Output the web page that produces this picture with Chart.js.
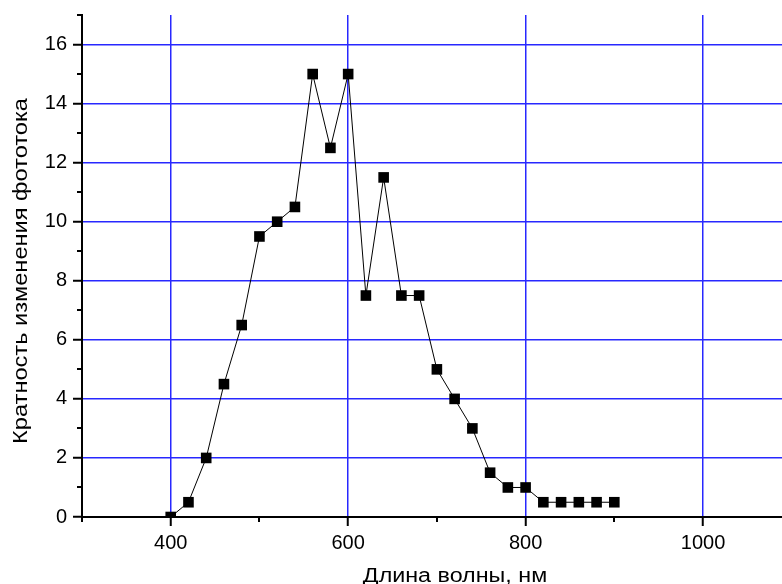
<!DOCTYPE html>
<html>
<head>
<meta charset="utf-8">
<script src="https://cdn.jsdelivr.net/npm/chart.js@4/dist/chart.umd.min.js"></script>
<style>
  html, body { margin: 0; padding: 0; background: #fff; }
  #wrap { width: 782px; height: 584px; }
</style>
</head>
<body>
<div id="wrap"><canvas id="chart"></canvas></div>
<script>
// wavelength, nm
const wavelengths = [400, 420, 440, 460, 480, 500, 520, 540, 560, 580, 600, 620, 640,
  660, 680, 700, 720, 740, 760, 780, 800, 820, 840, 860, 880, 900];
// photocurrent change ratio
const ratios = [0, 0.5, 2, 4.5, 6.5, 9.5, 10, 10.5, 15, 12.5, 15, 7.5, 11.5,
  7.5, 7.5, 5, 4, 3, 1.5, 1, 1, 0.5, 0.5, 0.5, 0.5, 0.5];

const xTicks = [400, 600, 800, 1000];
const xMinorTicks = [300, 500, 700, 900];
const yTicks = [0, 2, 4, 6, 8, 10, 12, 14, 16];
const yMinorTicks = [1, 3, 5, 7, 9, 11, 13, 15, 17];

const xTitle = 'Длина волны, нм';
const yTitle = 'Кратность изменения фототока';

const font = 'Liberation Sans, Arial, sans-serif';
const gridBlue = 'rgb(40, 40, 255)';

// fixed plot box, like the original export
const area = { left: 82, top: 15, right: 782, bottom: 517 };

const fixedArea = {
  id: 'fixedArea',
  afterLayout(chart) {
    const ca = chart.chartArea;
    Object.assign(ca, area);
    ca.width = area.right - area.left;
    ca.height = area.bottom - area.top;
    const x = chart.scales.x, y = chart.scales.y;
    x.left = area.left; x.right = area.right; x.width = ca.width;
    x.top = area.bottom; x.bottom = chart.height; x.height = x.bottom - x.top;
    y.left = 0; y.right = area.left; y.width = area.left;
    y.top = area.top; y.bottom = area.bottom; y.height = ca.height;
    x.configure();
    y.configure();
  }
};

// minor ticks + axis titles (the original titles are a bit stretched sideways)
const extras = {
  id: 'extras',
  afterDraw(chart) {
    const { ctx, scales } = chart;
    const x = scales.x, y = scales.y;
    ctx.save();
    ctx.strokeStyle = '#000';
    ctx.lineWidth = 2;
    ctx.beginPath();
    xMinorTicks.forEach(v => {
      const px = Math.round(x.getPixelForValue(v));
      ctx.moveTo(px, x.top);
      ctx.lineTo(px, x.top + 5);
    });
    yMinorTicks.forEach(v => {
      const py = Math.round(y.getPixelForValue(v));
      ctx.moveTo(y.right, py);
      ctx.lineTo(y.right - 5, py);
    });
    ctx.stroke();

    ctx.fillStyle = '#000';
    ctx.font = '20px ' + font;
    ctx.textAlign = 'center';
    ctx.textBaseline = 'alphabetic';

    ctx.save();
    ctx.translate(455, 582);
    ctx.scale(1.165, 1);
    ctx.fillText(xTitle, 0, 0);
    ctx.restore();

    ctx.save();
    ctx.translate(27, 271);
    ctx.rotate(-Math.PI / 2);
    ctx.scale(1.18, 1);
    ctx.fillText(yTitle, 0, 0);
    ctx.restore();

    ctx.restore();
  }
};

new Chart(document.getElementById('chart'), {
  type: 'scatter',
  data: {
    datasets: [{
      data: wavelengths.map((w, i) => ({ x: w, y: ratios[i] })),
      showLine: true,
      borderColor: '#000',
      borderWidth: 1,
      pointStyle: 'rect',
      pointRadius: 7.5,
      pointHoverRadius: 7.5,
      pointBackgroundColor: '#000',
      pointBorderColor: '#000',
      pointBorderWidth: 0
    }]
  },
  options: {
    responsive: true,
    maintainAspectRatio: false,
    animation: false,
    events: [],
    layout: { padding: { top: 15, right: 0, bottom: 0, left: 0 } },
    plugins: {
      legend: { display: false },
      tooltip: { enabled: false }
    },
    scales: {
      x: {
        type: 'linear',
        min: 300,
        max: 1089,
        afterBuildTicks: s => { s.ticks = xTicks.map(v => ({ value: v })); },
        afterFit: s => { s.height = 67; },
        grid: { color: gridBlue, lineWidth: 1.5, tickColor: '#000', tickLength: 9, tickWidth: 2 },
        border: { color: '#000', width: 2 },
        ticks: {
          color: '#000', padding: 5, maxRotation: 0,
          font: { family: font, size: 20 },
          callback: v => String(v)
        }
      },
      y: {
        type: 'linear',
        min: 0,
        max: 17,
        afterBuildTicks: s => { s.ticks = yTicks.map(v => ({ value: v })); },
        afterFit: s => { s.width = 82; },
        grid: { color: gridBlue, lineWidth: 1.5, tickColor: '#000', tickLength: 9, tickWidth: 2 },
        border: { color: '#000', width: 2 },
        ticks: {
          color: '#000', padding: 6,
          font: { family: font, size: 20 },
          callback: v => String(v)
        }
      }
    }
  },
  plugins: [fixedArea, extras]
});
</script>
</body>
</html>
